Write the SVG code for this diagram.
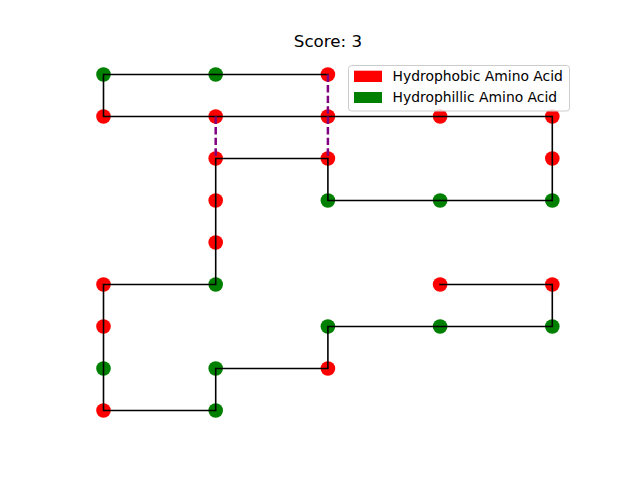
<svg xmlns="http://www.w3.org/2000/svg" width="640" height="480" viewBox="0 0 640 480">
<style>
.r{fill:#ff0000}
.g{fill:#008000}
.chain{fill:none;stroke:#000;stroke-width:1.6;stroke-linejoin:miter;stroke-linecap:square}
.hh{fill:none;stroke:#800080;stroke-width:2.5;stroke-dasharray:7.4 3.2}
text{font-family:"DejaVu Sans",sans-serif;fill:#000}
</style>
<rect width="640" height="480" fill="#fff"/>
<text x="328" y="47" font-size="16.7" text-anchor="middle">Score: 3</text>
<g id="nodes">
<g id="n0"><circle class="r" cx="440.1" cy="284.5" r="7.3"/></g>
<g id="n1"><circle class="r" cx="552.3" cy="284.5" r="7.3"/></g>
<g id="n2"><circle class="g" cx="552.3" cy="326.5" r="7.3"/></g>
<g id="n3"><circle class="g" cx="440.1" cy="326.5" r="7.3"/></g>
<g id="n4"><circle class="g" cx="327.9" cy="326.5" r="7.3"/></g>
<g id="n5"><circle class="r" cx="327.9" cy="368.5" r="7.3"/></g>
<g id="n6"><circle class="g" cx="215.7" cy="368.5" r="7.3"/></g>
<g id="n7"><circle class="g" cx="215.7" cy="410.5" r="7.3"/></g>
<g id="n8"><circle class="r" cx="103.5" cy="410.5" r="7.3"/></g>
<g id="n9"><circle class="g" cx="103.5" cy="368.5" r="7.3"/></g>
<g id="n10"><circle class="r" cx="103.5" cy="326.5" r="7.3"/></g>
<g id="n11"><circle class="r" cx="103.5" cy="284.5" r="7.3"/></g>
<g id="n12"><circle class="g" cx="215.7" cy="284.5" r="7.3"/></g>
<g id="n13"><circle class="r" cx="215.7" cy="242.5" r="7.3"/></g>
<g id="n14"><circle class="r" cx="215.7" cy="200.5" r="7.3"/></g>
<g id="n15"><circle class="r" cx="215.7" cy="158.5" r="7.3"/></g>
<g id="n16"><circle class="r" cx="327.9" cy="158.5" r="7.3"/></g>
<g id="n17"><circle class="g" cx="327.9" cy="200.5" r="7.3"/></g>
<g id="n18"><circle class="g" cx="440.1" cy="200.5" r="7.3"/></g>
<g id="n19"><circle class="g" cx="552.3" cy="200.5" r="7.3"/></g>
<g id="n20"><circle class="r" cx="552.3" cy="158.5" r="7.3"/></g>
<g id="n21"><circle class="r" cx="552.3" cy="116.5" r="7.3"/></g>
<g id="n22"><circle class="r" cx="440.1" cy="116.5" r="7.3"/></g>
<g id="n23"><circle class="r" cx="327.9" cy="116.5" r="7.3"/></g>
<g id="n24"><circle class="r" cx="215.7" cy="116.5" r="7.3"/></g>
<g id="n25"><circle class="r" cx="103.5" cy="116.5" r="7.3"/></g>
<g id="n26"><circle class="g" cx="103.5" cy="74.5" r="7.3"/></g>
<g id="n27"><circle class="g" cx="215.7" cy="74.5" r="7.3"/></g>
<g id="n28"><circle class="r" cx="327.9" cy="74.5" r="7.3"/></g>
</g>
<g id="connectors">
<polyline class="chain" points="440.1,284.5 552.3,284.5 552.3,326.5 440.1,326.5 327.9,326.5 327.9,368.5 215.7,368.5 215.7,410.5 103.5,410.5 103.5,368.5 103.5,326.5 103.5,284.5 215.7,284.5 215.7,242.5 215.7,200.5 215.7,158.5 327.9,158.5 327.9,200.5 440.1,200.5 552.3,200.5 552.3,158.5 552.3,116.5 440.1,116.5 327.9,116.5 215.7,116.5 103.5,116.5 103.5,74.5 215.7,74.5 327.9,74.5"/>
<line class="hh" x1="215.7" y1="116.5" x2="215.7" y2="158.5"/>
<line class="hh" x1="327.9" y1="74.5" x2="327.9" y2="116.5"/>
<line class="hh" x1="327.9" y1="116.5" x2="327.9" y2="158.5"/>
</g>
<g id="legend">
<rect x="348.5" y="65.5" width="221" height="45.5" rx="3" ry="3" fill="#fff" fill-opacity="0.8" stroke="#cccccc" stroke-width="1"/>
<rect x="354" y="70.7" width="28" height="11.3" class="r"/>
<rect x="354" y="92" width="28" height="11" class="g"/>
<text x="392.5" y="81" font-size="13.9">Hydrophobic Amino Acid</text>
<text x="392.5" y="102.3" font-size="13.9">Hydrophillic Amino Acid</text>
</g>
</svg>
